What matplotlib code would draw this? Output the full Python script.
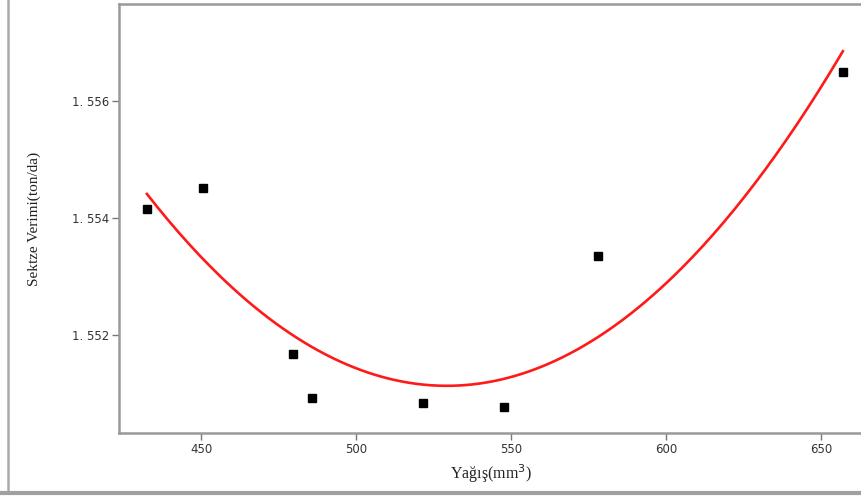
import numpy as np
import matplotlib
matplotlib.use("Agg")
from matplotlib import pyplot as plt
from matplotlib.lines import Line2D
from matplotlib.ticker import FuncFormatter

# okunan veri noktalari
yagis = [432.5, 450.6, 479.7, 485.6, 521.4, 547.6, 578.0, 656.9]
verim = [1.55415, 1.55451, 1.55168, 1.55092, 1.55084, 1.55077, 1.55335, 1.55650]

x_ticks = [450, 500, 550, 600, 650]
y_ticks = [1.552, 1.554, 1.556]

x_label = "Yağış(mm$^3$)"
y_label = "Sektze Verimi(ton/da)"

fig = plt.figure(figsize=(8.61, 5.01), dpi=100)
ax = fig.add_axes([119 / 861, 1 - 433 / 501, 1 - 119 / 861 + 0.002, (433 - 4) / 501])

# ikinci derece egri
coef = np.polyfit(yagis, verim, 2)
xs = np.linspace(min(yagis), max(yagis), 200)
ax.plot(xs, np.polyval(coef, xs), color="#ff1a1a", lw=1.9, zorder=2)
ax.plot(yagis, verim, "s", color="black", ms=6.2, zorder=3)

ax.set_xlim(423.5, 663.3)
ax.set_ylim(1.550325, 1.557658)
ax.set_xticks(x_ticks)
ax.set_yticks(y_ticks)
ax.yaxis.set_major_formatter(FuncFormatter(lambda v, p: "1. %03d" % round((v - 1) * 1000)))

for s in ["left", "bottom", "top"]:
    ax.spines[s].set_color("#999999")
    ax.spines[s].set_linewidth(1.8)
ax.spines["right"].set_visible(False)
ax.tick_params(direction="out", length=5, width=1, color="#777777",
               labelsize=8.5, labelcolor="#333333", pad=2)

ax.set_xlabel(x_label, family="Liberation Serif", fontsize=11.5, color="#222222", labelpad=5)
ax.set_ylabel(y_label, family="Liberation Serif", fontsize=11, color="#222222", labelpad=22)

# dis cerceve
fig.add_artist(Line2D([8 / 861, 8 / 861], [1 - 493 / 501, 1.0], transform=fig.transFigure,
                      color="#aaaaaa", lw=1.8))
fig.add_artist(Line2D([0, 1], [1 - 493 / 501, 1 - 493 / 501], transform=fig.transFigure,
                      color="#a0a0a0", lw=3))

fig.savefig("out.png", dpi=100)
